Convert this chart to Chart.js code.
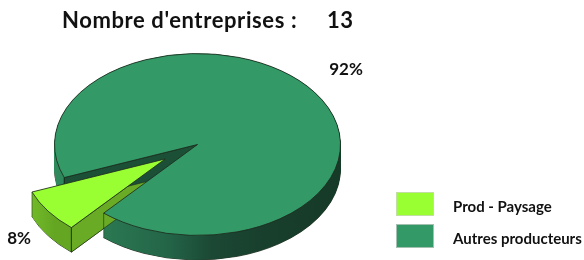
<!DOCTYPE html>
<html><head><meta charset="utf-8">
<script src="https://cdn.jsdelivr.net/npm/chart.js@4/dist/chart.umd.min.js"></script>
<style>html,body{margin:0;padding:0;background:#fff;}#wrap{width:584px;height:260px;position:relative;}</style>
</head><body><div id="wrap"><canvas id="c" width="584" height="260"></canvas></div>
<script>
// ---- data ----
const categories = ['Prod - Paysage', 'Autres producteurs'];
const counts = [1, 12];
const titleLabel = "Nombre d'entreprises :";

// ---- styles ----
const topColors = ['#99FF33', '#339966'];
const sideStops = [
  [[0, '#8cdb38'], [0.6, '#74bd2a'], [1, '#64a622']],
  [[0, '#2f8a5c'], [0.2, '#2a7651'], [0.4, '#236447'], [0.55, '#1b4834'], [0.75, '#183e2c'], [1, '#163a28']]
];
const cutColors = ['#6aab26', '#1b5036'];
const FONT = 'Lato, "Open Sans", sans-serif';

const pie3d = {
  id: 'pie3d',
  beforeDatasetDraw(chart, args, opts) {
    const arcs = args.meta.data;
    if (!arcs.length) return;
    const ctx = chart.ctx;
    const cx = arcs[0].x, cy = arcs[0].y, R = arcs[0].outerRadius;
    const tilt = opts.tilt, D = opts.depth / tilt;
    const shifts = arcs.map((a, i) => {
      const e = opts.explode[i] || 0;
      const mid = (a.startAngle + a.endAngle) / 2;
      return [Math.cos(mid) * e, Math.sin(mid) * e];
    });
    const sideFills = arcs.map((a, i) => {
      const x0 = cx - R + shifts[i][0];
      const x1 = i === 0 ? cx - 0.55 * R + shifts[i][0] : cx + R + shifts[i][0];
      const g = ctx.createLinearGradient(x0, 0, x1, 0);
      sideStops[i].forEach(s => g.addColorStop(s[0], s[1]));
      return g;
    });
    const drawWith = (a, over) => {
      const saved = a.options;
      a.options = Object.assign(Object.create(saved), over);
      a.draw(ctx);
      a.options = saved;
    };
    ctx.save();
    ctx.translate(cx, cy); ctx.scale(1, tilt); ctx.translate(-cx, -cy);
    // extruded side walls
    for (let d = D; d > 0; d -= 0.5) {
      arcs.forEach((a, i) => {
        ctx.save();
        ctx.translate(shifts[i][0], shifts[i][1] + d);
        drawWith(a, {backgroundColor: sideFills[i], borderWidth: d === D ? 1 : 0, borderColor: '#1a2a1a'});
        ctx.restore();
      });
    }
    // front-facing radial cut faces + corner edges
    arcs.forEach((a, i) => {
      const ox = a.x + shifts[i][0], oy = a.y + shifts[i][1];
      const faces = [[a.startAngle, Math.cos(a.startAngle) < 0], [a.endAngle, Math.cos(a.endAngle) > 0]];
      faces.forEach(([t, vis]) => {
        const px = ox + Math.cos(t) * R, py = oy + Math.sin(t) * R;
        if (vis) {
          ctx.beginPath();
          ctx.moveTo(ox, oy); ctx.lineTo(px, py); ctx.lineTo(px, py + D); ctx.lineTo(ox, oy + D);
          ctx.closePath();
          ctx.fillStyle = cutColors[i];
          ctx.fill();
          ctx.strokeStyle = 'rgba(20,30,20,0.8)';
          ctx.lineWidth = 0.8;
          ctx.stroke();
        }
        if (Math.sin(t) > 0) {
          ctx.beginPath();
          ctx.moveTo(px, py); ctx.lineTo(px, py + D);
          ctx.strokeStyle = 'rgba(20,30,20,0.85)';
          ctx.lineWidth = 0.8;
          ctx.stroke();
        }
      });
    });
    // top faces
    arcs.forEach((a, i) => {
      ctx.save();
      ctx.translate(shifts[i][0], shifts[i][1]);
      a.draw(ctx);
      ctx.restore();
    });
    ctx.restore();
    // percentage labels
    const total = counts.reduce((s, v) => s + v, 0);
    ctx.save();
    ctx.fillStyle = '#111';
    ctx.font = 'bold 17px ' + FONT;
    ctx.textAlign = 'center';
    arcs.forEach((a, i) => {
      const mid = (a.startAngle + a.endAngle) / 2;
      const r = R * opts.labelRadius[i];
      const s = Math.sin(mid);
      const x = cx + shifts[i][0] + Math.cos(mid) * r;
      const y = cy + (shifts[i][1] + s * r) * tilt + (s > 0 ? opts.depth * s : 0);
      ctx.textBaseline = s < 0 ? 'bottom' : 'middle';
      ctx.fillText(Math.round(counts[i] / total * 100) + '%', x, y);
    });
    ctx.restore();
    return false;
  },
  afterDraw(chart) {
    const ctx = chart.ctx;
    const total = counts.reduce((s, v) => s + v, 0);
    ctx.save();
    ctx.fillStyle = '#111';
    ctx.textBaseline = 'alphabetic';
    ctx.textAlign = 'left';
    ctx.font = 'bold 22px ' + FONT;
    if ('letterSpacing' in ctx) ctx.letterSpacing = '0.6px';
    ctx.fillText(titleLabel, 62, 28);
    ctx.fillText(String(total), 327, 28);
    if ('letterSpacing' in ctx) ctx.letterSpacing = '0px';
    // legend
    ctx.font = 'bold 15px ' + FONT;
    ctx.textBaseline = 'middle';
    categories.forEach((c, i) => {
      const y = 192 + i * 32;
      ctx.fillStyle = topColors[i];
      ctx.fillRect(396, y, 38, 24);
      ctx.strokeStyle = 'rgba(210,210,210,0.7)';
      ctx.lineWidth = 1;
      ctx.strokeRect(396.5, y + 0.5, 37, 23);
      ctx.fillStyle = '#111';
      ctx.fillText(c, 453, y + 15);
    });
    ctx.restore();
  }
};

new Chart(document.getElementById('c'), {
  type: 'pie',
  data: {
    labels: categories,
    datasets: [{data: counts, backgroundColor: topColors, borderColor: '#1e2a1e', borderWidth: 1, clip: false}]
  },
  options: {
    responsive: false,
    animation: false,
    events: [],
    rotation: 221,
    radius: 143,
    layout: {padding: {left: 55, right: 244, top: 60, bottom: 31}},
    plugins: {
      legend: {display: false},
      tooltip: {enabled: false},
      title: {display: false},
      pie3d: {tilt: 0.636, depth: 24.5, explode: [39.5, 0], labelRadius: [1.25, 1.27]}
    }
  },
  plugins: [pie3d]
});
</script>
</body></html>
